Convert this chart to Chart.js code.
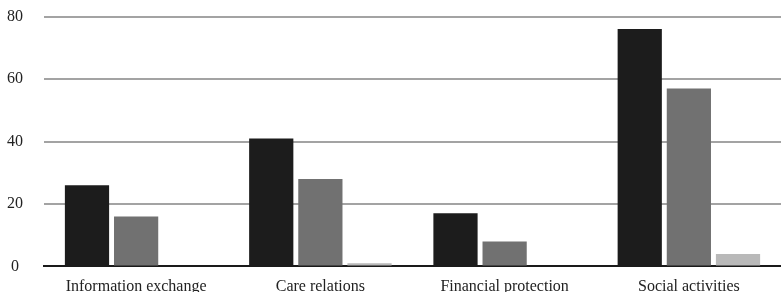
<!DOCTYPE html>
<html>
<head>
<meta charset="utf-8">
<script src="https://cdn.jsdelivr.net/npm/chart.js@4"></script>
<style>
  html, body { margin: 0; padding: 0; background: #fff; overflow: hidden; }
  #wrap { width: 781px; height: 311px; position: relative; margin-top: -14px; }
</style>
</head>
<body>
<div id="wrap"><canvas id="chart"></canvas></div>
<script>
// categories and series
const categories = ["Information exchange", "Care relations", "Financial protection", "Social activities"];
const seriesA = [26, 41, 17, 76];
const seriesB = [16, 28, 8, 57];
const seriesC = [0, 1, 0, 4];
const yTicks = [0, 20, 40, 60, 80];

const colors = ["#1c1c1c", "#717171", "#b9b9b9"];

const ctx = document.getElementById("chart");

new Chart(ctx, {
    type: "bar",
    data: {
        labels: categories,
        datasets: [seriesA, seriesB, seriesC].map((d, i) => ({
            label: "s" + (i + 1),
            data: d,
            backgroundColor: colors[i],
            borderWidth: 0,
            categoryPercentage: 0.8,
            barPercentage: 0.9
        }))
    },
    options: {
        responsive: true,
        maintainAspectRatio: false,
        animation: false,
        layout: { padding: 0 },
        plugins: {
            legend: { display: false },
            tooltip: { enabled: false }
        },
        scales: {
            x: {
                grid: { display: false },
                border: { display: true, color: "#1a1a1a", width: 2 },
                afterFit: axis => { axis.height = 26; },
                ticks: {
                    color: "#222",
                    padding: 3,
                    maxRotation: 0,
                    font: { family: "Liberation Serif", size: 16 }
                }
            },
            y: {
                min: 0,
                max: 80,
                afterBuildTicks: axis => {
                    axis.ticks = yTicks.map(v => ({ value: v }));
                },
                afterFit: axis => { axis.width = 44; },
                grid: {
                    color: "#a3a3a3",
                    lineWidth: 2,
                    drawTicks: false
                },
                border: { display: false },
                ticks: {
                    color: "#222",
                    padding: 21,
                    crossAlign: "center",
                    font: { family: "Liberation Serif", size: 16 }
                }
            }
        }
    }
});
</script>
</body>
</html>
